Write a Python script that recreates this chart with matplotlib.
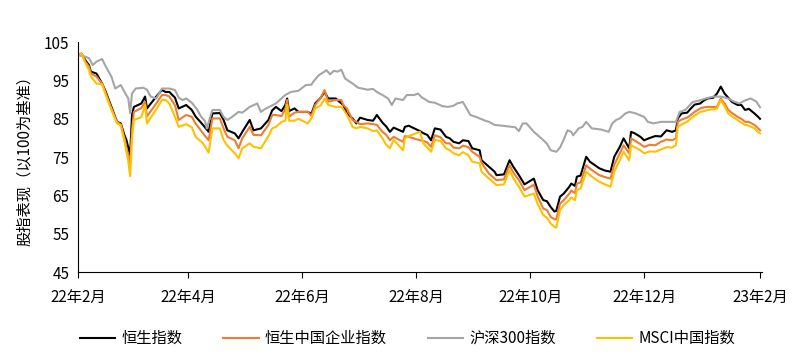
import pandas as pd
import matplotlib
matplotlib.use("Agg")
import matplotlib.pyplot as plt

plt.rcParams['font.family'] = ['Noto Sans CJK SC', 'DejaVu Sans']

start = pd.Timestamp("2022-02-01")

# days since 2022-02-01, shared by the three HK / MSCI series
days = [0, 2, 4, 6, 7, 10, 13, 15, 18, 21,
        23, 25, 26, 27, 28, 29, 30, 34, 36, 37,
        42, 45, 47, 49, 52, 54, 58, 61, 63, 67,
        70, 72, 76, 78, 80, 84, 86, 88, 92, 94,
        98, 102, 104, 106, 109, 111, 112, 113, 116, 118,
        123, 125, 127, 130, 132, 134, 138, 141, 142, 144,
        147, 149, 151, 155, 158, 160, 163, 165, 167, 169,
        174, 175, 177, 183, 185, 187, 189, 191, 194, 197,
        199, 201, 204, 206, 209, 211, 215, 216, 220, 223,
        224, 228, 231, 233, 236, 239, 244, 246, 249, 251,
        253, 255, 256, 258, 260, 263, 264, 266, 267, 269,
        272, 274, 277, 279, 282, 285, 287, 290, 292, 295,
        296, 298, 301, 303, 306, 309, 312, 315, 318, 320,
        321, 323, 326, 328, 330, 333, 335, 337, 340, 342,
        344, 346, 348, 350, 353, 355, 357, 359, 362, 364,
        365]

hsi = [101.6, 102, 100.3, 99, 97.3, 96.8, 94.2, 92, 88.1, 84.2,
       83.8, 80.7, 79.5, 77.5, 75.5, 86, 88.1, 89, 90.8, 87.7,
       90.8, 92.5, 92, 92, 90.5, 87.7, 88.6, 87.3, 85.6, 83.4,
       81.6, 86.4, 86.5, 84.7, 82, 81.2, 79.9, 81.6, 84.7, 82,
       82.5, 84.7, 87.2, 88.1, 87, 88.6, 90.3, 87, 87.7, 86.8,
       86.8, 86.3, 89, 90.5, 92, 90.3, 90.3, 89, 88.6, 86.4,
       85.1, 83.8, 85.3, 84.7, 84.5, 86, 84, 83, 81.6, 82.7,
       81.6, 82.9, 83.2, 81.8, 81.2, 80.8, 79.4, 82.5, 82.2, 80.3,
       79.9, 79, 78.6, 79.4, 79.2, 77.3, 76.8, 74.2, 72.5, 71.2,
       70.3, 70.5, 74.2, 72.5, 70.3, 67.9, 69.4, 66.4, 63.8, 63.5,
       62, 60.8, 61, 64.7, 65.5, 67.3, 68.1, 67.5, 69.9, 70.2,
       75.1, 73.8, 72.8, 72.1, 71.5, 71.2, 75.1, 77.7, 79.9, 77.3,
       81.6, 81.2, 80.3, 79.4, 80, 80.5, 80.4, 82, 81.6, 82,
       85.1, 86.4, 86.6, 87.7, 88.7, 89, 89.8, 90.3, 90.5, 91.6,
       93.4, 91.6, 90.5, 89.4, 88.6, 88.6, 87.3, 87.6, 86.4, 85.5,
       85]

hscei = [101.6, 102, 99.9, 98.6, 96.8, 96, 94.2, 91.6, 87.7, 84.2,
         83.5, 79.9, 77.5, 75.5, 73, 82, 86.8, 87.8, 89.4, 85.6,
         89, 91.2, 91.2, 90.8, 88.5, 84.7, 86, 85.5, 83.8, 81.2,
         79.4, 85.1, 85.1, 82.5, 80.3, 79.4, 77.3, 79.9, 82.9, 80.8,
         80.7, 83.4, 86, 86, 85.7, 87.5, 89.9, 85.5, 86.6, 86.8,
         86.8, 85.8, 88.6, 90.5, 92.5, 89.5, 89.9, 89.9, 88.6, 87.7,
         84.7, 84.2, 83.6, 83.8, 83.6, 83.4, 81.6, 80.8, 79.4, 80.3,
         79, 80.5, 80.3, 79.4, 79.2, 78.8, 77.7, 80.7, 80.2, 78.6,
         78.6, 77.5, 77.3, 78, 77.6, 76.4, 75.1, 73.5, 70.7, 69.4,
         69, 69.2, 72.9, 71, 69, 66.4, 67.8, 64.8, 61.6, 61.2,
         59.4, 58.8, 58.8, 62.9, 63.8, 65.5, 66.3, 65.6, 68.1, 68.4,
         72.9, 72, 71, 70.3, 69.8, 69.4, 73, 76, 78.1, 76,
         79.9, 79.3, 78.4, 77.7, 78.2, 78.1, 79, 79.6, 79.4, 79.9,
         84.2, 84.8, 85.3, 86, 86.8, 87.7, 88, 88.1, 88.1, 88.1,
         90.3, 89, 87.3, 86.5, 85.5, 85, 84.2, 84.2, 83.4, 82.5,
         82]

msci = [101.6, 102, 99.6, 97.7, 96, 94.2, 94, 91.2, 87.3, 83.8,
        83.3, 79, 76.5, 74, 70, 79.9, 84.7, 85.4, 88.6, 83.8,
        87.5, 89.9, 89.9, 89, 85.5, 82.9, 83.6, 82.8, 80.3, 78.6,
        76.2, 82.5, 82.5, 79.5, 78, 76, 74.7, 77.3, 78.6, 77.7,
        77.3, 80.5, 82.5, 82.9, 84.2, 84.5, 88.6, 84.5, 84.5, 85,
        83.8, 85.1, 87.7, 88.5, 90.3, 88.6, 88.1, 88.1, 87.5, 86,
        82.9, 82.5, 82.9, 82.5, 81.8, 82, 79.9, 78.2, 77.3, 79.5,
        76.8, 79.9, 80.5, 81.6, 78.5, 77.5, 76.4, 79.5, 79.2, 77.3,
        76.8, 76, 75.5, 76.3, 75.5, 73.8, 73.4, 71.2, 69.4, 68.1,
        67.7, 67.9, 71.6, 69.5, 67.3, 64.7, 65.5, 62.8, 59.9, 59.2,
        57.7, 56.8, 56.6, 61.2, 62.5, 63.8, 64.5, 63.8, 66.4, 66.8,
        71.2, 70.3, 69.2, 68.6, 67.9, 67.3, 71.2, 74.2, 76.4, 74.2,
        78.1, 77.6, 76.8, 76, 76.5, 76.4, 77, 77.6, 77.5, 78.1,
        82.9, 83.5, 84.2, 85.1, 85.8, 86.8, 87, 87.3, 87.5, 87.7,
        89.9, 88.3, 86.4, 85.6, 84.7, 84, 83.4, 83.2, 82.5, 81.5,
        81.2]

csi_days = [0, 2, 4, 6, 8, 10, 13, 15, 18, 20,
            23, 25, 27, 28, 29, 31, 35, 37, 39, 42,
            45, 49, 52, 54, 56, 58, 61, 64, 66, 68,
            69, 72, 76, 78, 80, 82, 86, 88, 92, 96,
            98, 100, 102, 106, 111, 114, 118, 122, 125, 126,
            129, 132, 133, 135, 137, 139, 141, 143, 147, 150,
            155, 158, 160, 163, 166, 168, 170, 174, 176, 180,
            182, 184, 188, 191, 195, 198, 201, 203, 206, 210,
            213, 218, 220, 223, 227, 234, 236, 238, 240, 244,
            248, 251, 253, 256, 258, 260, 262, 264, 265, 268,
            270, 272, 275, 280, 284, 286, 288, 290, 293, 295,
            298, 303, 305, 308, 312, 316, 320, 322, 325, 329,
            332, 336, 340, 344, 348, 351, 354, 357, 360, 363,
            365]

csi300 = [101.6, 101.4, 101.2, 100.8, 99, 99.9, 100.6, 98.6, 96, 92.9,
          93.8, 92, 90.3, 86.5, 91.6, 92.9, 93.1, 92.6, 90.8, 90.3,
          92.9, 92.9, 92.5, 90.5, 89.9, 90.3, 89.2, 87.3, 85.5, 84.5,
          82.5, 87.3, 87.3, 85.5, 84.7, 85.3, 86.8, 86.6, 88.1, 89,
          86.8, 87.5, 88, 89, 91.2, 92, 92.3, 93.8, 93.9, 94.7,
          96.4, 97.3, 97.7, 96.6, 97.5, 97.3, 97.8, 95.5, 94.2, 93.1,
          92.6, 92.8, 92, 91.2, 90.3, 88.6, 90.3, 89.9, 91.2, 91.2,
          91.6, 90.6, 89.4, 89.2, 88.3, 88.1, 88.4, 89, 89.4, 86,
          85.5, 84.5, 84.2, 83.4, 83.2, 82.8, 81.8, 83.8, 83.8, 81.6,
          79.9, 78.5, 76.8, 76.4, 77.5, 79.6, 82, 81.6, 80.7, 82.5,
          82.9, 84.2, 82.5, 82.2, 81.6, 83.8, 84.7, 85.1, 86.4, 86.8,
          86.5, 85.5, 84.2, 83.8, 84.2, 84.2, 84.2, 86.8, 87.3, 89.4,
          89.7, 90.3, 90.8, 90.8, 90.3, 89.5, 89, 89.8, 90.3, 89.5,
          88]

labels = ["恒生指数", "恒生中国企业指数", "沪深300指数", "MSCI中国指数"]
colors = ["#000000", "#ED7D31", "#A5A5A5", "#FFC000"]

dates = start + pd.to_timedelta(days, unit="D")
csi_dates = start + pd.to_timedelta(csi_days, unit="D")

fig = plt.figure(figsize=(8.02, 3.6), dpi=100)
ax = fig.add_axes([0.097, 0.244, 0.853, 0.639])

ax.plot(dates, hsi, color=colors[0], lw=1.5, label=labels[0])
ax.plot(dates, hscei, color=colors[1], lw=1.5, label=labels[1])
ax.plot(csi_dates, csi300, color=colors[2], lw=1.5, label=labels[2])
ax.plot(dates, msci, color=colors[3], lw=1.5, label=labels[3])

ax.set_ylim(45, 105)
ax.set_yticks(range(45, 106, 10))
ax.set_xlim(start, pd.Timestamp("2023-02-02"))
ticks = pd.date_range("2022-02-01", "2023-02-01", freq="2MS")
ax.set_xticks(ticks)
ax.set_xticklabels([f"{d.year % 100}年{d.month}月" for d in ticks])

for s in ["top", "right"]:
    ax.spines[s].set_visible(False)
ax.tick_params(axis="y", length=0, labelsize=11, pad=6)
ax.tick_params(axis="x", length=4, direction="out", labelsize=11, pad=8)

ax.set_ylabel("股指表现（以100为基准）", fontsize=11, labelpad=8)

fig.legend(loc="center", bbox_to_anchor=(0.508, 0.06), ncol=4, frameon=False,
           fontsize=11, handlelength=2.3, columnspacing=2.7, handletextpad=0.4)

plt.savefig("out.png", dpi=100)
